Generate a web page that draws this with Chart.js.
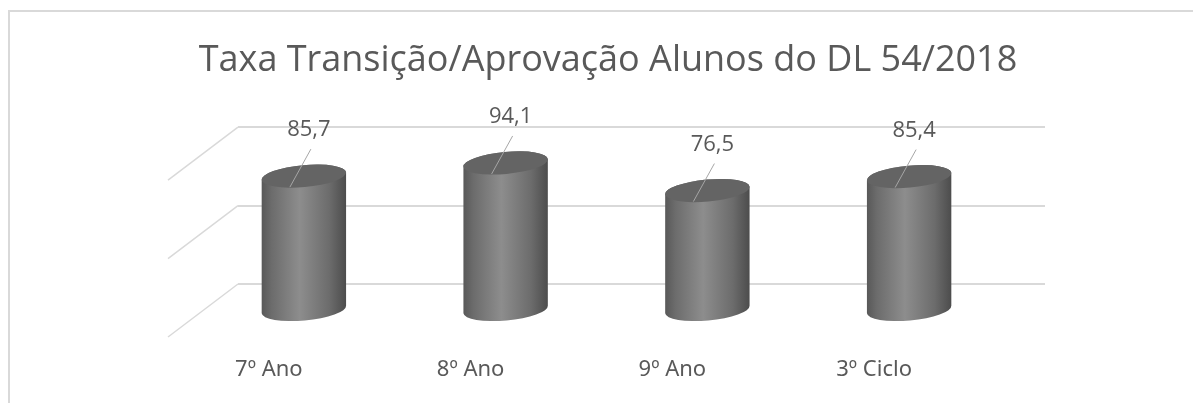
<!DOCTYPE html>
<html>
<head>
<meta charset="utf-8">
<script src="https://cdn.jsdelivr.net/npm/chart.js@4"></script>
<style>
  html, body { margin: 0; padding: 0; background: #ffffff; }
  #wrap { position: relative; width: 1193px; height: 403px; }
</style>
</head>
<body>
<div id="wrap"><canvas id="grafico"></canvas></div>
<script>
// dados do gráfico
const categorias = ['7º Ano', '8º Ano', '9º Ano', '3º Ciclo'];
const taxas = [85.7, 94.1, 76.5, 85.4];
const eixoMin = 0;
const eixoMax = 100;
const eixoPasso = 50;
const titulo = 'Taxa Transição/Aprovação Alunos do DL 54/2018';

// profundidade da "caixa" 3D (chão em perspetiva)
const PROF_X = 70;
const PROF_Y = 53;

const fmt = v => v.toFixed(1).replace('.', ',');

// moldura cinzenta (canto superior esquerdo)
const moldura = {
    id: 'moldura',
    beforeDraw(chart) {
        const ctx = chart.ctx;
        ctx.save();
        ctx.strokeStyle = '#d9d9d9';
        ctx.lineWidth = 2;
        ctx.beginPath();
        ctx.moveTo(9, chart.height);
        ctx.lineTo(9, 11);
        ctx.lineTo(chart.width, 11);
        ctx.stroke();
        ctx.restore();
    }
};

// linhas diagonais do chão / parede lateral
const chao = {
    id: 'chao',
    beforeDatasetsDraw(chart) {
        const ctx = chart.ctx;
        const y = chart.scales.y;
        const left = chart.chartArea.left;
        ctx.save();
        ctx.strokeStyle = '#d9d9d9';
        ctx.lineWidth = 1.5;
        y.ticks.forEach(t => {
            const py = y.getPixelForValue(t.value);
            ctx.beginPath();
            ctx.moveTo(left, py);
            ctx.lineTo(left - PROF_X, py + PROF_Y);
            ctx.stroke();
        });
        ctx.restore();
    }
};

// cilindros desenhados a partir das barras
const cilindros = {
    id: 'cilindros',
    afterDatasetsDraw(chart) {
        const ctx = chart.ctx;
        const meta = chart.getDatasetMeta(0);
        const rot = -0.09;
        const ry = 11;
        const cos = Math.cos(rot), sin = Math.sin(rot);
        ctx.save();
        meta.data.forEach((bar, i) => {
            const cx = bar.x - PROF_X / 2;
            const topo = bar.y + PROF_Y / 2;
            const base = bar.base + PROF_Y / 2;
            const rx = bar.width / 2;

            // corpo
            const g = ctx.createLinearGradient(cx - rx, 0, cx + rx, 0);
            g.addColorStop(0, '#585858');
            g.addColorStop(0.12, '#6c6c6c');
            g.addColorStop(0.45, '#8d8d8d');
            g.addColorStop(0.8, '#6c6c6c');
            g.addColorStop(1, '#4c4c4c');
            ctx.fillStyle = g;
            ctx.beginPath();
            ctx.moveTo(cx - rx * cos, topo - rx * sin);
            ctx.lineTo(cx - rx * cos, base - rx * sin);
            ctx.ellipse(cx, base, rx, ry, rot, Math.PI, 0, true);
            ctx.lineTo(cx + rx * cos, topo + rx * sin);
            ctx.ellipse(cx, topo, rx, ry, rot, 0, Math.PI, true);
            ctx.closePath();
            ctx.fill();

            // tampa
            ctx.fillStyle = '#646464';
            ctx.beginPath();
            ctx.ellipse(cx, topo, rx, ry, rot, 0, Math.PI * 2);
            ctx.fill();

            // rótulo de dados com linha de chamada
            const lx = cx + 5;
            const ly = topo - 46;
            ctx.strokeStyle = '#a6a6a6';
            ctx.lineWidth = 1;
            ctx.beginPath();
            ctx.moveTo(lx + 2, ly + 19);
            ctx.lineTo(cx - 14, topo + 11);
            ctx.stroke();

            ctx.fillStyle = '#595959';
            ctx.font = '22px "Open Sans"';
            ctx.textAlign = 'center';
            ctx.textBaseline = 'middle';
            ctx.fillText(fmt(taxas[i]), lx, ly);
        });
        ctx.restore();
    }
};

new Chart(document.getElementById('grafico'), {
    type: 'bar',
    data: {
        labels: categorias,
        datasets: [{
            data: taxas,
            backgroundColor: 'rgba(0,0,0,0)',
            borderWidth: 0,
            categoryPercentage: 1,
            barPercentage: 0.42
        }]
    },
    options: {
        responsive: true,
        maintainAspectRatio: false,
        animation: false,
        layout: { padding: { left: 171, right: 148, top: 0, bottom: 0 } },
        plugins: {
            legend: { display: false },
            tooltip: { enabled: false },
            title: {
                display: true,
                text: titulo,
                color: '#595959',
                font: { family: 'Open Sans', size: 36, weight: 'normal' },
                padding: { top: 39, bottom: 45 }
            }
        },
        scales: {
            x: {
                grid: { display: false },
                border: { display: false },
                afterFit: s => { s.height = 119; },
                ticks: {
                    color: '#595959',
                    font: { family: 'Noto Sans', size: 22 },
                    labelOffset: -PROF_X,
                    padding: 65,
                    maxRotation: 0
                }
            },
            y: {
                min: eixoMin,
                max: eixoMax,
                afterFit: s => { s.width = 67; },
                ticks: { display: false, stepSize: eixoPasso },
                border: { display: false },
                grid: { color: '#d9d9d9', lineWidth: 2, drawTicks: false }
            }
        }
    },
    plugins: [moldura, chao, cilindros]
});
</script>
</body>
</html>
